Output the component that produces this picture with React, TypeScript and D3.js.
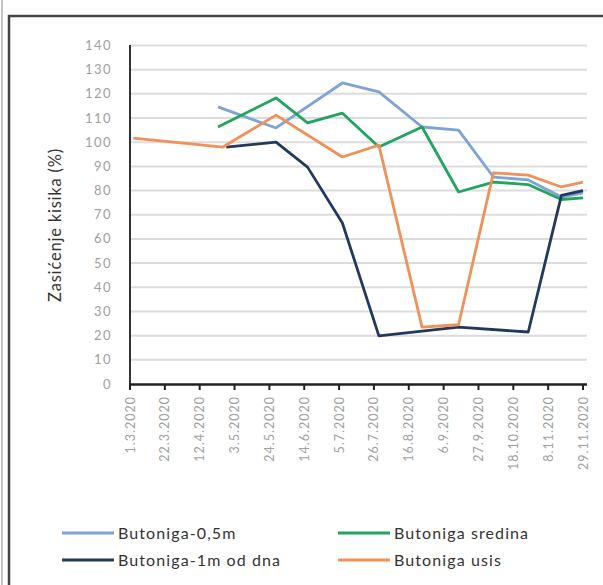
import React from "react";
import * as d3 from "d3";

const tickLabels = ["1.3.2020","22.3.2020","12.4.2020","3.5.2020","24.5.2020","14.6.2020","5.7.2020","26.7.2020","16.8.2020","6.9.2020","27.9.2020","18.10.2020","8.11.2020","29.11.2020"];
const yTicks = [0,10,20,30,40,50,60,70,80,90,100,110,120,130,140];

const blueDates = ["2020-04-23","2020-05-28","2020-07-07","2020-07-29","2020-08-24","2020-09-15","2020-10-06","2020-10-27","2020-11-16","2020-11-29"];
const blueValues = [114.6,105.9,124.5,120.8,106.3,105,85.6,84.4,77.3,79];

const greenDates = ["2020-04-23","2020-05-28","2020-06-16","2020-07-07","2020-07-29","2020-08-24","2020-09-15","2020-10-06","2020-10-27","2020-11-16","2020-11-29"];
const greenValues = [106.3,118.3,108,112,98,106.3,79.4,83.5,82.5,76.3,77];

const navyDates = ["2020-04-28","2020-05-28","2020-06-16","2020-07-07","2020-07-29","2020-09-15","2020-10-27","2020-11-16","2020-11-29"];
const navyValues = [98,100,89.7,66.6,19.9,23.5,21.5,78,80];

const orangeDates = ["2020-03-03","2020-04-26","2020-05-28","2020-07-07","2020-07-29","2020-08-24","2020-09-15","2020-10-06","2020-10-27","2020-11-16","2020-11-29"];
const orangeValues = [101.7,98,111.2,93.9,98.8,23.5,24.5,87.3,86.4,81.5,83.5];

const seriesNames = ["Butoniga-0,5m","Butoniga sredina","Butoniga-1m od dna","Butoniga usis"];

const parse = d3.timeParse("%Y-%m-%d");
const tickParse = d3.timeParse("%d.%m.%Y");

export default function App() {
  const W = 603, H = 585;
  const x = d3.scaleTime()
    .domain([tickParse(tickLabels[0])!, tickParse(tickLabels[tickLabels.length - 1])!])
    .range([130, 583]);
  const y = d3.scaleLinear().domain([0, 140]).range([384, 45.5]);
  const line = d3.line<[Date, number]>().x(d => x(d[0])).y(d => y(d[1]));

  const series = [
    { name: seriesNames[2], color: "#22395e", dates: navyDates, values: navyValues },
    { name: seriesNames[3], color: "#f0905a", dates: orangeDates, values: orangeValues },
    { name: seriesNames[1], color: "#20a45e", dates: greenDates, values: greenValues },
    { name: seriesNames[0], color: "#7ea3d6", dates: blueDates, values: blueValues },
  ];
  const drawOrder = [series[3], series[2], series[0], series[1]];

  const legend = [
    { name: seriesNames[0], color: "#7ea3d6", lx: 62, ly: 533 },
    { name: seriesNames[1], color: "#20a45e", lx: 338, ly: 533 },
    { name: seriesNames[2], color: "#22395e", lx: 62, ly: 560 },
    { name: seriesNames[3], color: "#f0905a", lx: 338, ly: 560 },
  ];

  const font = "Lato, 'Open Sans', sans-serif";

  return (
    <svg width={W} height={H} style={{ position: "absolute", left: 0, top: 0 }} fontFamily={font}>
      <rect x={0} y={0} width={W} height={H} fill="#fff" />
      <line x1={2} y1={0} x2={2} y2={H} stroke="#888" strokeWidth={1} />
      <rect x={9} y={16} width={W + 10} height={H + 10} fill="none" stroke="#444" strokeWidth={2.5} />
      {yTicks.map(t => (
        <g key={t}>
          {t > 0 && <line x1={130} x2={587} y1={y(t)} y2={y(t)} stroke="#dcdcdc" strokeWidth={2} />}
          <text x={112} y={y(t) + 4.5} textAnchor="end" fontSize={13} letterSpacing={1.5} fill="#a0a0a0">{t}</text>
        </g>
      ))}
      <text transform={`translate(61,225) rotate(-90)`} textAnchor="middle" fontSize={16.5} letterSpacing={0.8} fill="#333">Zasićenje kisika (%)</text>
      {drawOrder.map(s => (
        <path key={s.name}
          d={line(s.dates.map((d, i) => [parse(d)!, s.values[i]] as [Date, number]))!}
          fill="none" stroke={s.color} strokeWidth={2.8} strokeLinejoin="round" />
      ))}
      <line x1={130} x2={130} y1={45} y2={385} stroke="#333" strokeWidth={2} />
      <line x1={129} x2={587} y1={384.5} y2={384.5} stroke="#222" strokeWidth={2.5} />
      {tickLabels.map(l => {
        const tx = x(tickParse(l)!);
        return (
          <g key={l}>
            <line x1={tx} x2={tx} y1={384} y2={390} stroke="#222" strokeWidth={2} />
            <text transform={`translate(${tx + 4.5},396) rotate(-90)`} textAnchor="end" fontSize={12.5} letterSpacing={1} fill="#a0a0a0">{l}</text>
          </g>
        );
      })}
      {legend.map(l => (
        <g key={l.name}>
          <line x1={l.lx} x2={l.lx + 52} y1={l.ly} y2={l.ly} stroke={l.color} strokeWidth={3} />
          <text x={l.lx + 56} y={l.ly + 5.5} fontSize={16} letterSpacing={1.1} fill="#333">{l.name}</text>
        </g>
      ))}
    </svg>
  );
}
